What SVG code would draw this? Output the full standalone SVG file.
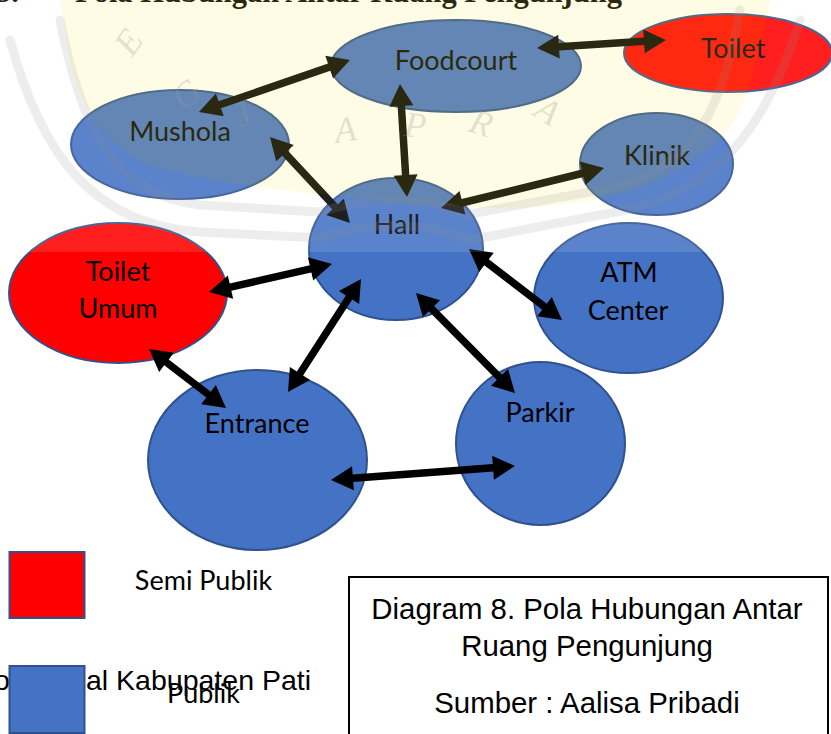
<svg xmlns="http://www.w3.org/2000/svg" width="831" height="734" viewBox="0 0 831 734">
  <style>
    .node ellipse { fill: #4472C4; stroke: #2F528F; stroke-width: 2; }
    .node.semi ellipse { fill: #FF0000; }
    .lbl { font-family: Lato, "Liberation Sans", sans-serif; font-size: 27px; fill: #000; text-anchor: middle; }
    .cap { font-family: "Liberation Sans", Arial, sans-serif; font-size: 29.4px; fill: #000; text-anchor: middle; }
    .conn polygon { fill: #000; }
    .wm-line { fill: none; stroke: #8c8c8c; stroke-opacity: 0.16; stroke-width: 9; stroke-linecap: round; }
    .wm-let { font-family: "Liberation Serif", serif; font-style: italic; font-size: 36px; fill: #9a9a9a; fill-opacity: 0.3; }
  </style>

  <rect width="831" height="734" fill="#fff"/>

  <!-- section heading, cut by the top edge -->
  <text x="-4" y="1.5" font-family="Liberation Serif, serif" font-weight="bold" font-size="30.5">5.</text>
  <text x="75" y="1.5" font-family="Liberation Serif, serif" font-weight="bold" font-size="30.5">Pola Hubungan Antar Ruang Pengunjung</text>

  <!-- rooms -->
  <g id="foodcourt" class="node"><ellipse cx="456" cy="66" rx="125" ry="46"/><text class="lbl" x="456" y="70">Foodcourt</text></g>
  <g id="toilet" class="node semi"><ellipse cx="728" cy="53" rx="104" ry="39"/><text class="lbl" x="733" y="58">Toilet</text></g>
  <g id="mushola" class="node"><ellipse cx="180" cy="144.5" rx="109" ry="54.5"/><text class="lbl" x="180" y="141">Mushola</text></g>
  <g id="klinik" class="node"><ellipse cx="656.5" cy="164" rx="76.5" ry="51"/><text class="lbl" x="657" y="165">Klinik</text></g>
  <g id="hall" class="node"><ellipse cx="396" cy="249" rx="87" ry="71"/><text class="lbl" x="397" y="234">Hall</text></g>
  <g id="toilet-umum" class="node semi"><ellipse cx="118" cy="293" rx="109" ry="70"/><text class="lbl" x="118" y="281">Toilet</text><text class="lbl" x="118" y="318">Umum</text></g>
  <g id="atm-center" class="node"><ellipse cx="628.5" cy="298" rx="94.5" ry="75"/><text class="lbl" x="629" y="282">ATM</text><text class="lbl" x="628" y="320">Center</text></g>
  <g id="entrance" class="node"><ellipse cx="257.5" cy="460" rx="109.5" ry="90"/><text class="lbl" x="257" y="433">Entrance</text></g>
  <g id="parkir" class="node"><ellipse cx="540.5" cy="443.5" rx="84.5" ry="81.5"/><text class="lbl" x="540" y="422">Parkir</text></g>

  <!-- two-way connectors: shaft 7.5 wide, heads 22 long x 24 wide -->
  <g id="connectors" class="conn">
    <polygon transform="translate(537,48) rotate(-3.55)" points="0,0 22,-12 22,-3.75 107.2,-3.75 107.2,-12 129.2,0 107.2,12 107.2,3.75 22,3.75 22,12"/>
    <polygon transform="translate(350,60) rotate(161.01)" points="0,0 22,-12 22,-3.75 137.7,-3.75 137.7,-12 159.7,0 137.7,12 137.7,3.75 22,3.75 22,12"/>
    <polygon transform="translate(400,84) rotate(86.46)" points="0,0 22,-12 22,-3.75 91.2,-3.75 91.2,-12 113.2,0 91.2,12 91.2,3.75 22,3.75 22,12"/>
    <polygon transform="translate(270,137) rotate(47.07)" points="0,0 22,-12 22,-3.75 95.5,-3.75 95.5,-12 117.5,0 95.5,12 95.5,3.75 22,3.75 22,12"/>
    <polygon transform="translate(604,168) rotate(166.21)" points="0,0 22,-12 22,-3.75 145.8,-3.75 145.8,-12 167.8,0 145.8,12 145.8,3.75 22,3.75 22,12"/>
    <polygon transform="translate(332,264) rotate(167.18)" points="0,0 22,-12 22,-3.75 104.1,-3.75 104.1,-12 126.1,0 104.1,12 104.1,3.75 22,3.75 22,12"/>
    <polygon transform="translate(361,279) rotate(122.87)" points="0,0 22,-12 22,-3.75 112.5,-3.75 112.5,-12 134.5,0 112.5,12 112.5,3.75 22,3.75 22,12"/>
    <polygon transform="translate(469,249) rotate(37.36)" points="0,0 22,-12 22,-3.75 95,-3.75 95,-12 117,0 95,12 95,3.75 22,3.75 22,12"/>
    <polygon transform="translate(416,293) rotate(45.29)" points="0,0 22,-12 22,-3.75 118.7,-3.75 118.7,-12 140.7,0 118.7,12 118.7,3.75 22,3.75 22,12"/>
    <polygon transform="translate(149,349) rotate(37.46)" points="0,0 22,-12 22,-3.75 75,-3.75 75,-12 97,0 75,12 75,3.75 22,3.75 22,12"/>
    <polygon transform="translate(331,480) rotate(-4.35)" points="0,0 22,-12 22,-3.75 162.5,-3.75 162.5,-12 184.5,0 162.5,12 162.5,3.75 22,3.75 22,12"/>
  </g>

  <!-- faint logo watermark over the upper band -->
  <g id="watermark">
    <path fill="#fff" fill-opacity="0.12" fill-rule="evenodd" d="M0,0 H831 V252 H0 Z M60,0 L770,0 C760,60 745,100 735,120 C700,170 640,195 560,205 C480,212 420,205 330,195 C260,188 200,180 150,165 C110,150 80,110 70,60 Z"/>
    <path fill="#FFF064" fill-opacity="0.17" d="M60,0 L770,0 C760,60 745,100 735,120 C700,170 640,195 560,205 C480,212 420,205 330,195 C260,188 200,180 150,165 C110,150 80,110 70,60 Z"/>
    <path class="wm-line" d="M10,40 C40,150 90,225 200,232 L320,238 Q397,212 470,240 L600,215 C700,200 760,150 800,20"/>
    <path class="wm-line" d="M60,20 C80,120 110,195 200,205 L320,212 Q397,188 470,214 L600,190 C680,175 720,130 740,10"/>
    <text class="wm-let" transform="translate(132,58) rotate(-55)">E</text>
    <text class="wm-let" transform="translate(184,112) rotate(-40)">G</text>
    <text class="wm-let" transform="translate(240,128) rotate(-25)">J</text>
    <text class="wm-let" transform="translate(336,143) rotate(-8)">A</text>
    <text class="wm-let" transform="translate(403,136) rotate(6)">P</text>
    <text class="wm-let" transform="translate(467,131) rotate(18)">R</text>
    <text class="wm-let" transform="translate(532,115) rotate(32)">A</text>
  </g>

  <!-- legend -->
  <g id="legend">
    <text x="-6" y="690" font-family="Liberation Sans, Arial, sans-serif" font-size="28.5">o</text>
    <text x="86" y="690" font-family="Liberation Sans, Arial, sans-serif" font-size="28.5">al Kabupaten Pati</text>
    <rect x="9.5" y="552" width="75" height="66" fill="#FF0000" stroke="#2F528F" stroke-width="2"/>
    <text class="lbl" x="203.5" y="590">Semi Publik</text>
    <rect x="9.5" y="666" width="75" height="67" fill="#4472C4" stroke="#2F528F" stroke-width="2"/>
    <text class="lbl" x="203.5" y="703">Publik</text>
  </g>

  <!-- caption box -->
  <g id="caption">
    <rect x="349" y="577" width="479" height="200" fill="#fff" stroke="#000" stroke-width="2"/>
    <text class="cap" x="587" y="619">Diagram 8. Pola Hubungan Antar</text>
    <text class="cap" x="587" y="656">Ruang Pengunjung</text>
    <text class="cap" x="587" y="713">Sumber : Aalisa Pribadi</text>
  </g>
</svg>
